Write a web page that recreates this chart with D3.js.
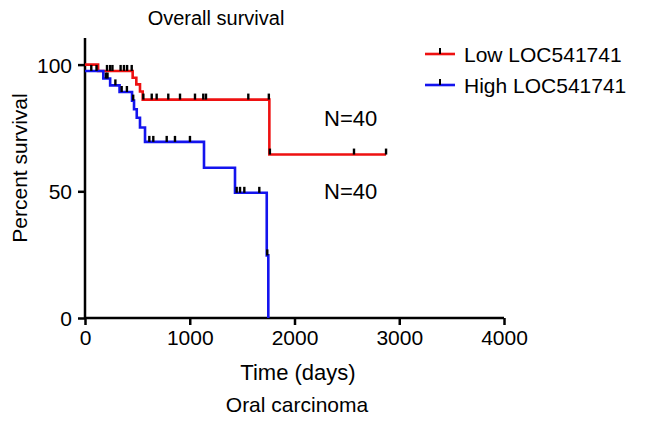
<!DOCTYPE html>
<html><head><meta charset="utf-8">
<script src="https://cdn.jsdelivr.net/npm/d3@7"></script>
<style>body{margin:0;background:#fff}svg{display:block}text{font-family:"Liberation Sans",Arial,sans-serif;fill:#000}</style>
</head><body>
<script>
// Data
const seriesNames = ["Low LOC541741", "High LOC541741"];
const lowTimes = [0, 125, 455, 490, 525, 551, 1760];
const lowSurv = [100, 97.5, 94.8, 92.2, 89.4, 86.2, 64.5];
const lowEnd = 2874;
const lowCensorT = [210, 240, 262, 340, 372, 402, 446, 557, 637, 684, 795, 907, 1050, 1129, 1155, 1559, 1755, 1765, 2568, 2874];
const highTimes = [0, 175, 240, 330, 449, 468, 494, 525, 573, 1136, 1432, 1735, 1750];
const highSurv = [97.5, 94.5, 91.8, 89.2, 85.8, 82.4, 79.0, 75.2, 69.5, 59.3, 49.4, 24.7, 0];
const highEnd = 1750;
const highCensorT = [60, 110, 200, 215, 290, 350, 400, 460, 614, 652, 780, 859, 1002, 1448, 1480, 1521, 1664, 1740];
const xTicks = [0, 1000, 2000, 3000, 4000];
const yTicks = [0, 50, 100];
const nLabels = ["N=40", "N=40"];

const W = 646, H = 424;
const svg = d3.select("body").append("svg").attr("width", W).attr("height", H);
const x = d3.scaleLinear().domain([0, 4000]).range([85, 504]);
const y = d3.scaleLinear().domain([0, 110.5]).range([318, 38]);

function survAt(times, surv, t) {
  let s = surv[0];
  for (let i = 0; i < times.length; i++) if (times[i] <= t) s = surv[i];
  return s;
}

// Axes
const xAxis = d3.axisBottom(x).tickValues(xTicks).tickSize(7).tickPadding(5).tickFormat(d3.format("d"));
const gx = svg.append("g").attr("transform", "translate(0,318)").call(xAxis);
gx.select(".domain").attr("stroke-width", 2.5).attr("d", "M85,0H504");
gx.selectAll(".tick line").attr("stroke-width", 2.5);
gx.selectAll("text").style("font-size", "21px");

const yAxis = d3.axisLeft(y).tickValues(yTicks).tickSize(7).tickPadding(6);
const gy = svg.append("g").attr("transform", "translate(85,0)").call(yAxis);
gy.select(".domain").attr("stroke-width", 2.5).attr("d", "M0," + y(110.5) + "V318");
gy.selectAll(".tick line").attr("stroke-width", 2.5);
gy.selectAll("text").style("font-size", "21px").attr("dy", "0.36em");

const line = d3.line().x(d => x(d[0])).y(d => y(d[1])).curve(d3.curveStepAfter);
function draw(times, surv, end, cens, color) {
  const pts = times.map((t, i) => [t, surv[i]]);
  pts.push([end, surv[surv.length - 1]]);
  svg.append("path").attr("d", line(pts)).attr("fill", "none").attr("stroke", color).attr("stroke-width", 2.6);
  svg.append("g").selectAll("line").data(cens).join("line")
    .attr("x1", d => x(d)).attr("x2", d => x(d))
    .attr("y1", d => y(survAt(times, surv, d)) - 6).attr("y2", d => y(survAt(times, surv, d)))
    .attr("stroke", "#000").attr("stroke-width", 2.4);
}
draw(lowTimes, lowSurv, lowEnd, lowCensorT, "#ee1111");
draw(highTimes, highSurv, highEnd, highCensorT, "#1414ee");

// Text labels
svg.append("text").attr("x", 216).attr("y", 25).attr("text-anchor", "middle").style("font-size", "20px").text("Overall survival");
svg.append("text").attr("x", 298).attr("y", 380).attr("text-anchor", "middle").style("font-size", "22px").text("Time (days)");
svg.append("text").attr("x", 297).attr("y", 412).attr("text-anchor", "middle").style("font-size", "21px").text("Oral carcinoma");
svg.append("text").attr("transform", "translate(27,168) rotate(-90)").attr("text-anchor", "middle").style("font-size", "21px").text("Percent survival");
svg.append("text").attr("x", 324).attr("y", 126).style("font-size", "22px").text(nLabels[0]);
svg.append("text").attr("x", 324).attr("y", 199).style("font-size", "22px").text(nLabels[1]);

// Legend
const colors = ["#ee1111", "#1414ee"];
const lg = svg.append("g").selectAll("g").data(seriesNames).join("g")
  .attr("transform", (d, i) => `translate(0,${54 + i * 31})`);
lg.append("line").attr("x1", 425).attr("x2", 455).attr("y1", 0).attr("y2", 0).attr("stroke", (d, i) => colors[i]).attr("stroke-width", 2.6);
lg.append("line").attr("x1", 440).attr("x2", 440).attr("y1", -6).attr("y2", 0).attr("stroke", "#000").attr("stroke-width", 2);
lg.append("text").attr("x", 464).attr("y", 0).attr("dy", "0.36em").style("font-size", "21px").text(d => d);
</script>
</body></html>
